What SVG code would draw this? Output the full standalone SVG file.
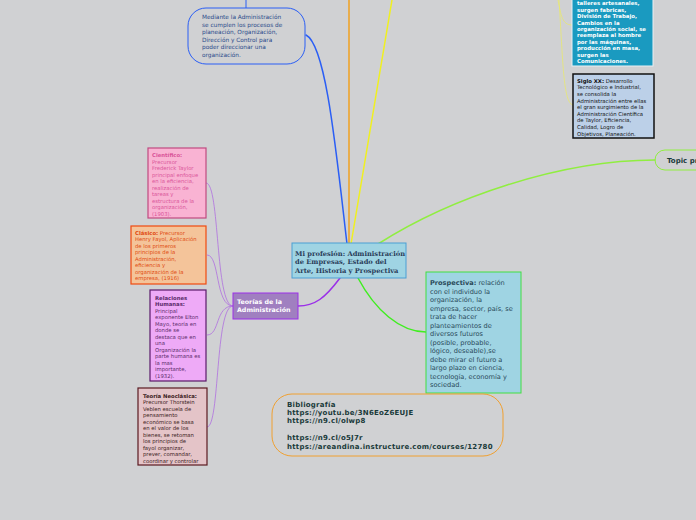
<svg xmlns="http://www.w3.org/2000/svg" width="696" height="520" viewBox="0 0 696 520">
<style>
.t{font-family:"DejaVu Sans",Verdana,sans-serif;font-size:5.6px}
.b{font-weight:bold}
.c{fill:none;stroke-linecap:round}
</style>
<rect width="696" height="520" fill="#d0d1d3"/>
<g id="connectors">
<line x1="246" y1="0" x2="246" y2="8" stroke="#2a5ef5" stroke-width="1"/>
<line x1="349" y1="0" x2="349" y2="244" stroke="#f0a020" stroke-width="1.5"/>
<path class="c" d="M351,244 L392,0" stroke="#f0f020" stroke-width="1.5"/>
<path class="c" d="M347,244 C336,150 326,45 306,35" stroke="#2a5ef5" stroke-width="1.5"/>
<path class="c" d="M378,244 C450,198 560,160 655,160" stroke="#90ee40" stroke-width="1.5"/>
<path class="c" d="M358,278 C375,310 400,332 426,332" stroke="#40ee20" stroke-width="1.5"/>
<path class="c" d="M340,278 C325,298 315,306 298,306" stroke="#9b30e8" stroke-width="1.5"/>
<g stroke="#b070e0" stroke-width="0.8" fill="none">
<path d="M233,306 C215,306 220,183 206,183"/>
<path d="M233,306 C215,306 220,255 207,255"/>
<path d="M233,306 C215,306 220,335 207,335"/>
<path d="M233,306 C215,306 220,427 207,427"/>
</g>
<g stroke="#e8e870" stroke-width="0.8" fill="none">
<path d="M558,0 C561,15 562,25 572,25"/>
<path d="M559,0 C563,60 563,103 573,105"/>
</g>
</g>
<g id="center">
<rect x="292" y="243" width="114" height="35" fill="#9fd4e3" stroke="#4a9fd4" stroke-width="1"/>
<g font-family="'DejaVu Serif','Liberation Serif',serif" font-weight="bold" font-size="6.7" fill="#2a3d5a">
<text x="295" y="255.5">Mi profesión: Administración</text>
<text x="295" y="264">de Empresas, Estado del</text>
<text x="295" y="272.5">Arte, Historia y Prospectiva</text>
</g>
</g>
<g id="mediante">
<rect x="188" y="8" width="117" height="56" rx="18" fill="none" stroke="#2a5ef5" stroke-width="1"/>
<g class="t" fill="#2a4a8a" style="font-size:5.8px">
<text x="202" y="19" style="font-size:5.8px">Mediante la Administración</text>
<text x="202" y="26.5" style="font-size:5.8px">se cumplen los procesos de</text>
<text x="202" y="34" style="font-size:5.8px">planeación, Organización,</text>
<text x="202" y="41.5" style="font-size:5.8px">Dirección y Control para</text>
<text x="202" y="49" style="font-size:5.8px">poder direccionar una</text>
<text x="202" y="56.5" style="font-size:5.8px">organización.</text>
</g>
</g>
<g id="teorias">
<rect x="233" y="293" width="65" height="26" fill="#a07fc0" stroke="#9b30e8" stroke-width="1"/>
<g class="t b" fill="#fff">
<text x="237" y="304" style="font-size:6.3px">Teorías de la</text>
<text x="237" y="312" style="font-size:6.3px">Administración</text>
</g>
</g>
<g id="cientifico">
<rect x="148" y="148" width="58" height="70" fill="#f9b3d3" stroke="#c04a80" stroke-width="1.2"/>
<g class="t" fill="#d9559a" style="font-size:5.3px">
<text x="152" y="157" class="b" style="font-size:5.3px">Científico:</text>
<text x="152" y="163.5" style="font-size:5.3px">Precursor</text>
<text x="152" y="170" style="font-size:5.3px">Frederick Taylor</text>
<text x="152" y="176.5" style="font-size:5.3px">principal enfoque</text>
<text x="152" y="183" style="font-size:5.3px">en la eficiencia,</text>
<text x="152" y="189.5" style="font-size:5.3px">realización de</text>
<text x="152" y="196" style="font-size:5.3px">tareas y</text>
<text x="152" y="202.5" style="font-size:5.3px">estructura de la</text>
<text x="152" y="209" style="font-size:5.3px">organización,</text>
<text x="152" y="215.5" style="font-size:5.3px">(1903).</text>
</g>
</g>
<g id="clasico">
<rect x="131" y="226" width="75" height="58" fill="#f4c49a" stroke="#f04a10" stroke-width="1.2"/>
<g class="t" fill="#e04a10" style="font-size:5.3px">
<text x="135" y="234.5" style="font-size:5.3px"><tspan font-weight="bold">Clásico:</tspan> Precursor</text>
<text x="135" y="241" style="font-size:5.3px">Henry Fayol, Aplicación</text>
<text x="135" y="247.5" style="font-size:5.3px">de los primeros</text>
<text x="135" y="254" style="font-size:5.3px">principios de la</text>
<text x="135" y="260.5" style="font-size:5.3px">Administración,</text>
<text x="135" y="267" style="font-size:5.3px">eficiencia y</text>
<text x="135" y="273.5" style="font-size:5.3px">organización de la</text>
<text x="135" y="280" style="font-size:5.3px">empresa, (1916)</text>
</g>
</g>
<g id="relaciones">
<rect x="150" y="290" width="56" height="91" fill="#eeaaf7" stroke="#5a1a6a" stroke-width="1.2"/>
<g class="t" fill="#5a2a6a" style="font-size:5.3px">
<text x="155" y="299.5" class="b" style="font-size:5.3px">Relaciones</text>
<text x="155" y="306" class="b" style="font-size:5.3px">Humanas:</text>
<text x="155" y="312.5" style="font-size:5.3px">Principal</text>
<text x="155" y="319" style="font-size:5.3px">exponente Elton</text>
<text x="155" y="325.5" style="font-size:5.3px">Mayo, teoría en</text>
<text x="155" y="332" style="font-size:5.3px">donde se</text>
<text x="155" y="338.5" style="font-size:5.3px">destaca que en</text>
<text x="155" y="345" style="font-size:5.3px">una</text>
<text x="155" y="351.5" style="font-size:5.3px">Organización la</text>
<text x="155" y="358" style="font-size:5.3px">parte humana es</text>
<text x="155" y="364.5" style="font-size:5.3px">la mas</text>
<text x="155" y="371" style="font-size:5.3px">importante,</text>
<text x="155" y="377.5" style="font-size:5.3px">(1932).</text>
</g>
</g>
<g id="neoclasica">
<rect x="138" y="388" width="69" height="77" fill="#e4c4c8" stroke="#5a1a20" stroke-width="1.2"/>
<g class="t" fill="#3a1a1a" style="font-size:5.3px">
<text x="143" y="397.5" class="b" style="font-size:5.3px">Teoría Neoclásica:</text>
<text x="143" y="404" style="font-size:5.3px">Precursor Thorstein</text>
<text x="143" y="410.5" style="font-size:5.3px">Veblen escuela de</text>
<text x="143" y="417" style="font-size:5.3px">pensamiento</text>
<text x="143" y="423.5" style="font-size:5.3px">económico se basa</text>
<text x="143" y="430" style="font-size:5.3px">en el valor de los</text>
<text x="143" y="436.5" style="font-size:5.3px">bienes, se retoman</text>
<text x="143" y="443" style="font-size:5.3px">los principios de</text>
<text x="143" y="449.5" style="font-size:5.3px">fayol organizar,</text>
<text x="143" y="456" style="font-size:5.3px">prever, comandar,</text>
<text x="143" y="462.5" style="font-size:5.3px">coordinar y controlar</text>
</g>
</g>
<g id="revolucion">
<rect x="572" y="-5" width="81" height="71" fill="#1a9ac0" stroke="#e8f0f4" stroke-width="1"/>
<g class="t b" fill="#fff" style="font-size:5.4px">
<text x="577" y="5.3" style="font-size:5.4px">talleres artesanales,</text>
<text x="577" y="11.7" style="font-size:5.4px">surgen fabricas,</text>
<text x="577" y="18.1" style="font-size:5.4px">División de Trabajo,</text>
<text x="577" y="24.5" style="font-size:5.4px">Cambios en la</text>
<text x="577" y="30.9" style="font-size:5.4px">organización social, se</text>
<text x="577" y="37.3" style="font-size:5.4px">reemplaza al hombre</text>
<text x="577" y="43.7" style="font-size:5.4px">por las máquinas,</text>
<text x="577" y="50.1" style="font-size:5.4px">producción en masa,</text>
<text x="577" y="56.5" style="font-size:5.4px">surgen las</text>
<text x="577" y="62.9" style="font-size:5.4px">Comunicaciones.</text>
</g>
</g>
<g id="sigloxx">
<rect x="573" y="74" width="81" height="64" fill="#bcd0e8" stroke="#111" stroke-width="1.5"/>
<g class="t" fill="#111" style="font-size:5.3px">
<text x="577" y="82.7" style="font-size:5.3px"><tspan font-weight="bold">Siglo XX:</tspan> Desarrollo</text>
<text x="577" y="89.3" style="font-size:5.3px">Tecnológico e Industrial,</text>
<text x="577" y="95.9" style="font-size:5.3px">se consolida la</text>
<text x="577" y="102.5" style="font-size:5.3px">Administración entre ellas</text>
<text x="577" y="109.1" style="font-size:5.3px">el gran surgimiento de la</text>
<text x="577" y="115.7" style="font-size:5.3px">Administración Científica</text>
<text x="577" y="122.3" style="font-size:5.3px">de Taylor, Eficiencia,</text>
<text x="577" y="128.9" style="font-size:5.3px">Calidad, Logro de</text>
<text x="577" y="135.5" style="font-size:5.3px">Objetivos, Planeación.</text>
</g>
</g>
<g id="topic">
<rect x="655" y="150" width="70" height="20" rx="10" fill="none" stroke="#90ee40" stroke-width="1"/>
<text x="667" y="162.5" class="t b" fill="#1a3a3a" style="font-size:7px">Topic principal</text>
</g>
<g id="prospectiva">
<rect x="426" y="272" width="95" height="121" fill="#9fd4e3" stroke="#40e040" stroke-width="1"/>
<g class="t" fill="#2a4a5a" style="font-size:6.6px">
<text x="430" y="285.2" style="font-size:6.6px"><tspan font-weight="bold">Prospectiva:</tspan> relación</text>
<text x="430" y="293.7" style="font-size:6.6px">con el individuo la</text>
<text x="430" y="302.2" style="font-size:6.6px">organización, la</text>
<text x="430" y="310.7" style="font-size:6.6px">empresa, sector, país, se</text>
<text x="430" y="319.2" style="font-size:6.6px">trata de hacer</text>
<text x="430" y="327.7" style="font-size:6.6px">planteamientos de</text>
<text x="430" y="336.2" style="font-size:6.6px">diversos futuros</text>
<text x="430" y="344.7" style="font-size:6.6px">(posible, probable,</text>
<text x="430" y="353.2" style="font-size:6.6px">lógico, deseable),se</text>
<text x="430" y="361.7" style="font-size:6.6px">debe mirar el futuro a</text>
<text x="430" y="370.2" style="font-size:6.6px">largo plazo en ciencia,</text>
<text x="430" y="378.7" style="font-size:6.6px">tecnología, economía y</text>
<text x="430" y="387.2" style="font-size:6.6px">sociedad.</text>
</g>
</g>
<g id="bibliografia">
<rect x="272" y="394" width="231" height="62" rx="20" fill="none" stroke="#f0a030" stroke-width="1"/>
<g class="t b" fill="#1a3a3a" style="font-size:7px;letter-spacing:0.25px">
<text x="287" y="406.5" style="font-size:7px">Bibliografía</text>
<text x="287" y="415" style="font-size:7px">https://youtu.be/3N6EoZ6EUJE</text>
<text x="287" y="423" style="font-size:7px">https://n9.cl/olwp8</text>
<text x="287" y="440" style="font-size:7px">https://n9.cl/o5J7r</text>
<text x="287" y="448.5" style="font-size:7px">https://areandina.instructure.com/courses/12780</text>
</g>
</g>
</svg>
